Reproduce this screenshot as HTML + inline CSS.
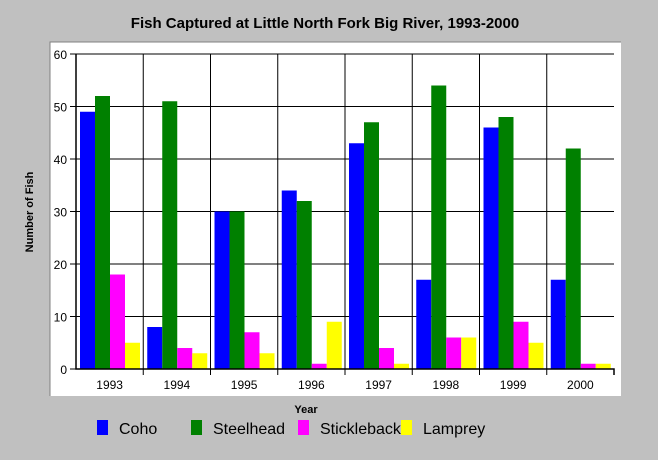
<!DOCTYPE html>
<html><head><style>
body{margin:0;background:#c0c0c0;font-family:"Liberation Sans",sans-serif;}
</style></head><body>
<svg width="658" height="455" xmlns="http://www.w3.org/2000/svg" font-family="Liberation Sans, sans-serif">
<rect x="0" y="0" width="658" height="455" fill="#c0c0c0"/>
<text x="325" y="28" text-anchor="middle" font-size="15" font-weight="bold">Fish Captured at Little North Fork Big River, 1993-2000</text>
<rect x="50" y="42" width="571" height="354" fill="#fff"/>
<path d="M50 396V42H621" stroke="#808080" fill="none"/>
<text transform="translate(33,212) rotate(-90)" text-anchor="middle" font-size="11" font-weight="bold">Number of Fish</text>
<text x="306" y="413" text-anchor="middle" font-size="11" font-weight="bold">Year</text>
<g id="grid"></g><g id="bars"></g><g id="axes"></g>
<g id="legend"></g>
</svg>
<script>
const years=["1993","1994","1995","1996","1997","1998","1999","2000"];
const coho=[49,8,30,34,43,17,46,17];
const steelhead=[52,51,30,32,47,54,48,42];
const stickleback=[18,4,7,1,4,6,9,1];
const lamprey=[5,3,3,9,1,6,5,1];
const yTicks=[0,10,20,30,40,50,60];
const seriesNames=["Coho","Steelhead","Stickleback","Lamprey"];
const NS="http://www.w3.org/2000/svg";
const L=76,R=614,T=54,B=369,ymax=60;
const yS=v=>B-(v/ymax)*(B-T);
const gw=(R-L)/years.length;
const xS=i=>L+i*gw;
function mk(tag,attrs,parent){const e=document.createElementNS(NS,tag);for(const k in attrs)e.setAttribute(k,attrs[k]);document.getElementById(parent).appendChild(e);return e;}
const colors=["#0000ff","#008000","#ff00ff","#ffff00"];
const series=[coho,steelhead,stickleback,lamprey];
yTicks.forEach(t=>{
 const l=mk("line",{x1:L-6,x2:R,y1:yS(t),y2:yS(t),stroke:"#000","stroke-width":1},"grid");
 
 
 const tx=mk("text",{x:L-9,y:yS(t)+5,"text-anchor":"end","font-size":12},"axes");
 tx.textContent=t;
 
 
});
years.forEach((y,i)=>{
 if(i>0){const l=mk("line",{x1:xS(i),x2:xS(i),y1:T,y2:B+6,stroke:"#000"},"grid");
 
 }
 series.forEach((s,j)=>{
  const r=mk("rect",{x:xS(i)+4+j*15,y:yS(s[i]),width:15,height:B-yS(s[i]),fill:colors[j]},"bars");
  
  
 });
 const tx=mk("text",{x:xS(i)+gw/2,y:B+20,"text-anchor":"middle","font-size":12},"axes");
 tx.textContent=y;
 
 
});
const ax=mk("path",{d:`M${L} ${T}V${B}H${R}V${B+6}`,stroke:"#000",fill:"none","stroke-width":1.5},"axes");


const lx=[97,191,298,401];
seriesNames.forEach((n,j)=>{
 const r=mk("rect",{x:lx[j],y:420,width:11,height:15,fill:colors[j]},"legend");
 
 
 const t=mk("text",{x:lx[j]+22,y:434,"font-size":16},"legend");
 t.textContent=n;
 
 
});
</script>
</body></html>
